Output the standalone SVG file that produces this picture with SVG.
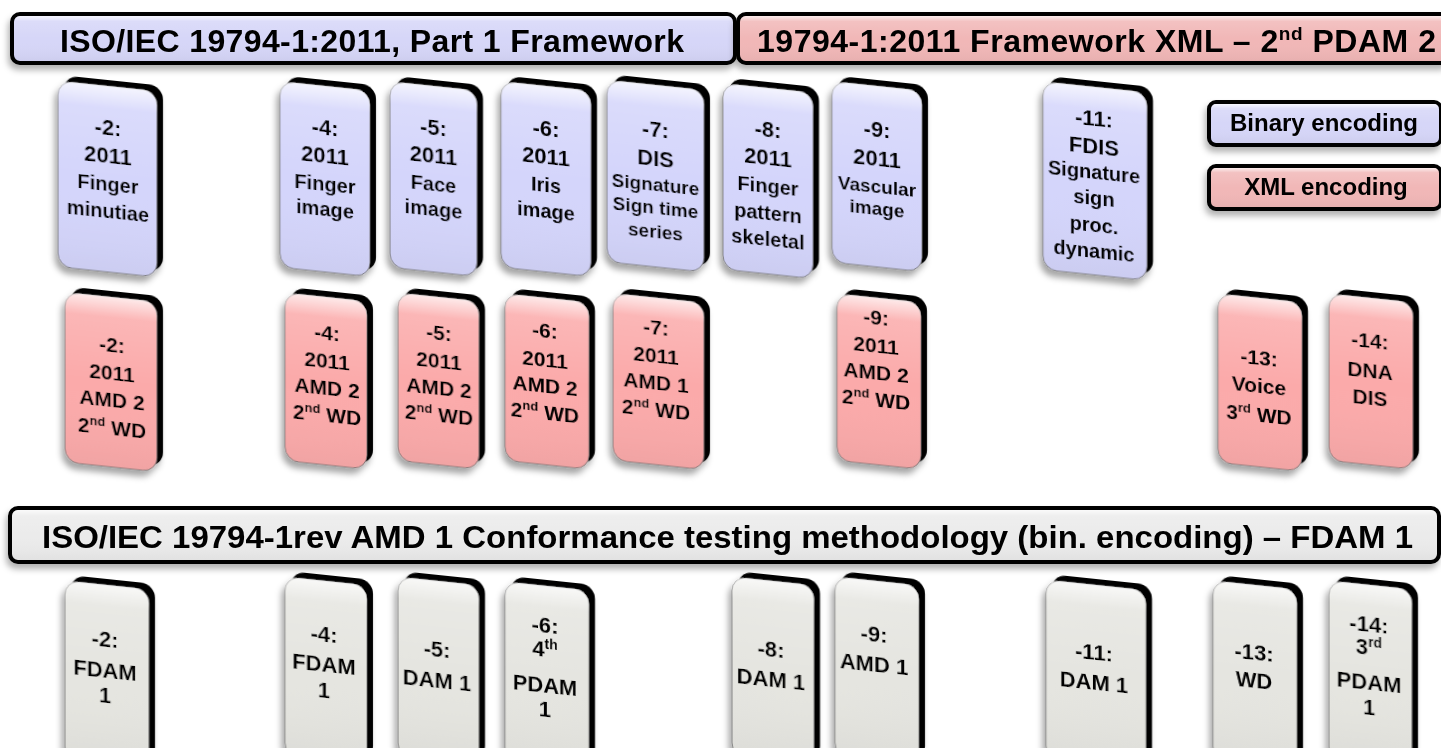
<svg xmlns="http://www.w3.org/2000/svg" width="1441" height="748" viewBox="0 0 1441 748">
<style>
.t{font-family:"Liberation Sans",Arial,Helvetica,sans-serif;font-weight:bold;text-anchor:middle;fill:#000}
.ht{font-family:"Liberation Sans",Arial,Helvetica,sans-serif;font-weight:bold;fill:#000}
.plate{fill:#000}
.face{stroke:#6e6e6e;stroke-width:0.8}
.blue{fill:#d4d5fb}
.pink{fill:#fbaaaa}
.gray{fill:#e5e5e0}
.bblue{fill:#d6d6f8}
.bpink{fill:#f1b7b7}
.bgray{fill:#ebebeb}
.gloss{fill:url(#gl);stroke:none}
.ban{stroke:#000;stroke-width:4}
.s22{font-size:22px}
.s20{font-size:20px}
.s19{font-size:19px}
.s21{font-size:21px}
</style>
<defs>
<linearGradient id="gl" x1="0" y1="0" x2="0" y2="1">
<stop offset="0" stop-color="#fff" stop-opacity="0.75"/>
<stop offset="0.12" stop-color="#fff" stop-opacity="0.15"/>
<stop offset="0.5" stop-color="#fff" stop-opacity="0"/>
<stop offset="1" stop-color="#000" stop-opacity="0.04"/>
</linearGradient>
<filter id="sh" x="-20%" y="-10%" width="140%" height="125%">
<feDropShadow dx="-3" dy="6" stdDeviation="3" flood-color="#000" flood-opacity="0.35"/>
</filter>
<filter id="bsh" x="-5%" y="-20%" width="110%" height="160%">
<feDropShadow dx="-2" dy="5" stdDeviation="3" flood-color="#000" flood-opacity="0.3"/>
</filter>
</defs>

<!-- Banners -->
<g id="banner1" filter="url(#bsh)">
<rect class="ban bblue" x="12" y="14" width="723" height="49" rx="8"/>
<rect class="gloss" x="14" y="16" width="719" height="45" rx="6"/>
<text class="ht" x="60" y="52" font-size="32" textLength="624" lengthAdjust="spacing">ISO/IEC 19794-1:2011, Part 1 Framework</text>
</g>
<g id="banner2" filter="url(#bsh)">
<rect class="ban bpink" x="738" y="14" width="712" height="49" rx="8"/>
<rect class="gloss" x="740" y="16" width="708" height="45" rx="6"/>
<text class="ht" x="757" y="52" font-size="32" textLength="679" lengthAdjust="spacing">19794-1:2011 Framework XML – 2<tspan font-size="19" dy="-12">nd</tspan><tspan dy="12"> PDAM 2</tspan></text>
</g>
<g id="banner3" filter="url(#bsh)">
<rect class="ban bgray" x="10" y="508" width="1429" height="54" rx="8"/>
<rect class="gloss" x="12" y="510" width="1425" height="50" rx="6"/>
<text class="ht" x="42" y="548" font-size="31" textLength="1371" lengthAdjust="spacingAndGlyphs">ISO/IEC 19794-1rev AMD 1 Conformance testing methodology (bin. encoding) – FDAM 1</text>
</g>

<!-- Legend -->
<g id="legend-binary" filter="url(#bsh)">
<rect class="ban bblue" x="1209" y="102" width="232" height="43" rx="7"/>
<rect class="gloss" x="1211" y="104" width="228" height="39" rx="5"/>
<text class="t" x="1324" y="131" font-size="24">Binary encoding</text>
</g>
<g id="legend-xml" filter="url(#bsh)">
<rect class="ban bpink" x="1209" y="166" width="232" height="43" rx="7"/>
<rect class="gloss" x="1211" y="168" width="228" height="39" rx="5"/>
<text class="t" x="1326" y="195" font-size="24">XML encoding</text>
</g>

<!-- Blue cards (binary encoding) -->
<g id="b2" filter="url(#sh)" transform="translate(107.5,179) skewY(6) translate(-107.5,-179)">
<rect class="plate" x="64" y="80" width="99" height="186" rx="14"/>
<rect class="face blue" x="58" y="86" width="99" height="186" rx="14"/>
<rect class="gloss" x="58" y="86" width="99" height="186" rx="14"/>
<text class="t s22" x="108" y="135">-2:</text>
<text class="t s22" x="108" y="163">2011</text>
<text class="t s20" x="108" y="191">Finger</text>
<text class="t s20" x="108" y="218">minutiae</text>
</g>
<g id="b4" filter="url(#sh)" transform="translate(325,179) skewY(6) translate(-325,-179)">
<rect class="plate" x="286" y="80" width="90" height="186" rx="14"/>
<rect class="face blue" x="280" y="86" width="90" height="186" rx="14"/>
<rect class="gloss" x="280" y="86" width="90" height="186" rx="14"/>
<text class="t s22" x="325" y="135">-4:</text>
<text class="t s22" x="325" y="163">2011</text>
<text class="t s20" x="325" y="191">Finger</text>
<text class="t s20" x="325" y="216">image</text>
</g>
<g id="b5" filter="url(#sh)" transform="translate(433.5,179) skewY(6) translate(-433.5,-179)">
<rect class="plate" x="396" y="80" width="87" height="186" rx="14"/>
<rect class="face blue" x="390" y="86" width="87" height="186" rx="14"/>
<rect class="gloss" x="390" y="86" width="87" height="186" rx="14"/>
<text class="t s22" x="433.5" y="135">-5:</text>
<text class="t s22" x="433.5" y="163">2011</text>
<text class="t s20" x="433.5" y="191">Face</text>
<text class="t s20" x="433.5" y="216">image</text>
</g>
<g id="b6" filter="url(#sh)" transform="translate(546,179) skewY(6) translate(-546,-179)">
<rect class="plate" x="507" y="80" width="90" height="186" rx="14"/>
<rect class="face blue" x="501" y="86" width="90" height="186" rx="14"/>
<rect class="gloss" x="501" y="86" width="90" height="186" rx="14"/>
<text class="t s22" x="546" y="136">-6:</text>
<text class="t s22" x="546" y="164">2011</text>
<text class="t s20" x="546" y="192">Iris</text>
<text class="t s20" x="546" y="218">image</text>
</g>
<g id="b7" filter="url(#sh)" transform="translate(655.5,176) skewY(6) translate(-655.5,-176)">
<rect class="plate" x="613" y="79" width="97" height="182" rx="14"/>
<rect class="face blue" x="607" y="85" width="97" height="182" rx="14"/>
<rect class="gloss" x="607" y="85" width="97" height="182" rx="14"/>
<text class="t s22" x="655.5" y="137">-7:</text>
<text class="t s22" x="655.5" y="166">DIS</text>
<text class="t s19" x="655.5" y="191">Signature</text>
<text class="t s19" x="655.5" y="214">Sign time</text>
<text class="t s19" x="655.5" y="238">series</text>
</g>
<g id="b8" filter="url(#sh)" transform="translate(768,181) skewY(6) translate(-768,-181)">
<rect class="plate" x="729" y="82" width="90" height="186" rx="14"/>
<rect class="face blue" x="723" y="88" width="90" height="186" rx="14"/>
<rect class="gloss" x="723" y="88" width="90" height="186" rx="14"/>
<text class="t s22" x="768" y="137">-8:</text>
<text class="t s22" x="768" y="165">2011</text>
<text class="t s20" x="768" y="193">Finger</text>
<text class="t s20" x="768" y="220">pattern</text>
<text class="t s20" x="768" y="246">skeletal</text>
</g>
<g id="b9" filter="url(#sh)" transform="translate(877,176.5) skewY(6) translate(-877,-176.5)">
<rect class="plate" x="838" y="80" width="90" height="181" rx="14"/>
<rect class="face blue" x="832" y="86" width="90" height="181" rx="14"/>
<rect class="gloss" x="832" y="86" width="90" height="181" rx="14"/>
<text class="t s22" x="877" y="137">-9:</text>
<text class="t s22" x="877" y="166">2011</text>
<text class="t s19" x="877" y="193">Vascular</text>
<text class="t s19" x="877" y="215">image</text>
</g>
<g id="b11" filter="url(#sh)" transform="translate(1095,181) skewY(6) translate(-1095,-181)">
<rect class="plate" x="1049" y="81" width="104" height="188" rx="14"/>
<rect class="face blue" x="1043" y="87" width="104" height="188" rx="14"/>
<rect class="gloss" x="1043" y="87" width="104" height="188" rx="14"/>
<text class="t s22" x="1094" y="126">-11:</text>
<text class="t s22" x="1094" y="154">FDIS</text>
<text class="t s20" x="1094" y="179">Signature</text>
<text class="t s20" x="1094" y="205">sign</text>
<text class="t s20" x="1094" y="232">proc.</text>
<text class="t s20" x="1094" y="258">dynamic</text>
</g>

<!-- Pink cards (XML encoding) -->
<g id="x2" filter="url(#sh)" transform="translate(111,382) skewY(6) translate(-111,-382)">
<rect class="plate" x="71" y="291" width="92" height="170" rx="14"/>
<rect class="face pink" x="65" y="297" width="92" height="170" rx="14"/>
<rect class="gloss" x="65" y="297" width="92" height="170" rx="14"/>
<text class="t s21" x="112" y="352">-2:</text>
<text class="t s21" x="112" y="380">2011</text>
<text class="t s21" x="112" y="407">AMD 2</text>
<text class="t s21" x="112" y="435">2<tspan font-size="13" dy="-8">nd</tspan><tspan dy="8"> WD</tspan></text>
</g>
<g id="x4" filter="url(#sh)" transform="translate(326,381) skewY(6) translate(-326,-381)">
<rect class="plate" x="291" y="291" width="82" height="168" rx="14"/>
<rect class="face pink" x="285" y="297" width="82" height="168" rx="14"/>
<rect class="gloss" x="285" y="297" width="82" height="168" rx="14"/>
<text class="t s21" x="327" y="340">-4:</text>
<text class="t s21" x="327" y="368">2011</text>
<text class="t s21" x="327" y="395">AMD 2</text>
<text class="t s21" x="327" y="422">2<tspan font-size="13" dy="-8">nd</tspan><tspan dy="8"> WD</tspan></text>
</g>
<g id="x5" filter="url(#sh)" transform="translate(438.5,381) skewY(6) translate(-438.5,-381)">
<rect class="plate" x="404" y="291" width="81" height="168" rx="14"/>
<rect class="face pink" x="398" y="297" width="81" height="168" rx="14"/>
<rect class="gloss" x="398" y="297" width="81" height="168" rx="14"/>
<text class="t s21" x="439" y="340">-5:</text>
<text class="t s21" x="439" y="368">2011</text>
<text class="t s21" x="439" y="395">AMD 2</text>
<text class="t s21" x="439" y="422">2<tspan font-size="13" dy="-8">nd</tspan><tspan dy="8"> WD</tspan></text>
</g>
<g id="x6" filter="url(#sh)" transform="translate(547,381.5) skewY(6) translate(-547,-381.5)">
<rect class="plate" x="511" y="292" width="84" height="167" rx="14"/>
<rect class="face pink" x="505" y="298" width="84" height="167" rx="14"/>
<rect class="gloss" x="505" y="298" width="84" height="167" rx="14"/>
<text class="t s21" x="545" y="338">-6:</text>
<text class="t s21" x="545" y="367">2011</text>
<text class="t s21" x="545" y="393">AMD 2</text>
<text class="t s21" x="545" y="420">2<tspan font-size="13" dy="-8">nd</tspan><tspan dy="8"> WD</tspan></text>
</g>
<g id="x7" filter="url(#sh)" transform="translate(658.5,381.5) skewY(6) translate(-658.5,-381.5)">
<rect class="plate" x="619" y="292" width="91" height="167" rx="14"/>
<rect class="face pink" x="613" y="298" width="91" height="167" rx="14"/>
<rect class="gloss" x="613" y="298" width="91" height="167" rx="14"/>
<text class="t s21" x="656" y="335">-7:</text>
<text class="t s21" x="656" y="363">2011</text>
<text class="t s21" x="656" y="390">AMD 1</text>
<text class="t s21" x="656" y="417">2<tspan font-size="13" dy="-8">nd</tspan><tspan dy="8"> WD</tspan></text>
</g>
<g id="x9" filter="url(#sh)" transform="translate(879,381.5) skewY(6) translate(-879,-381.5)">
<rect class="plate" x="843" y="292" width="84" height="167" rx="14"/>
<rect class="face pink" x="837" y="298" width="84" height="167" rx="14"/>
<rect class="gloss" x="837" y="298" width="84" height="167" rx="14"/>
<text class="t s21" x="876" y="325">-9:</text>
<text class="t s21" x="876" y="353">2011</text>
<text class="t s21" x="876" y="380">AMD 2</text>
<text class="t s21" x="876" y="407">2<tspan font-size="13" dy="-8">nd</tspan><tspan dy="8"> WD</tspan></text>
</g>
<g id="x13" filter="url(#sh)" transform="translate(1260,382.5) skewY(6) translate(-1260,-382.5)">
<rect class="plate" x="1224" y="292" width="84" height="169" rx="14"/>
<rect class="face pink" x="1218" y="298" width="84" height="169" rx="14"/>
<rect class="gloss" x="1218" y="298" width="84" height="169" rx="14"/>
<text class="t s21" x="1259" y="365">-13:</text>
<text class="t s21" x="1259" y="393">Voice</text>
<text class="t s21" x="1259" y="422">3<tspan font-size="13" dy="-8">rd</tspan><tspan dy="8"> WD</tspan></text>
</g>
<g id="x14" filter="url(#sh)" transform="translate(1371,381.5) skewY(6) translate(-1371,-381.5)">
<rect class="plate" x="1335" y="292" width="84" height="167" rx="14"/>
<rect class="face pink" x="1329" y="298" width="84" height="167" rx="14"/>
<rect class="gloss" x="1329" y="298" width="84" height="167" rx="14"/>
<text class="t s21" x="1370" y="348">-14:</text>
<text class="t s21" x="1370" y="378">DNA</text>
<text class="t s21" x="1370" y="405">DIS</text>
</g>

<!-- Gray cards (conformance testing) -->
<g id="c2" filter="url(#sh)" transform="translate(107,672) skewY(6) translate(-107,-672)">
<rect class="plate" x="71" y="579" width="84" height="180" rx="14"/>
<rect class="face gray" x="65" y="585" width="84" height="180" rx="14"/>
<rect class="gloss" x="65" y="585" width="84" height="180" rx="14"/>
<text class="t s22" x="105" y="647">-2:</text>
<text class="t s22" x="105" y="678">FDAM</text>
<text class="t s22" x="105" y="703">1</text>
</g>
<g id="c4" filter="url(#sh)" transform="translate(326,668) skewY(6) translate(-326,-668)">
<rect class="plate" x="291" y="575" width="82" height="180" rx="14"/>
<rect class="face gray" x="285" y="581" width="82" height="180" rx="14"/>
<rect class="gloss" x="285" y="581" width="82" height="180" rx="14"/>
<text class="t s22" x="324" y="642">-4:</text>
<text class="t s22" x="324" y="672">FDAM</text>
<text class="t s22" x="324" y="698">1</text>
</g>
<g id="c5" filter="url(#sh)" transform="translate(438.5,668) skewY(6) translate(-438.5,-668)">
<rect class="plate" x="404" y="575" width="81" height="180" rx="14"/>
<rect class="face gray" x="398" y="581" width="81" height="180" rx="14"/>
<rect class="gloss" x="398" y="581" width="81" height="180" rx="14"/>
<text class="t s22" x="437" y="657">-5:</text>
<text class="t s22" x="437" y="688">DAM 1</text>
</g>
<g id="c6" filter="url(#sh)" transform="translate(547,673) skewY(6) translate(-547,-673)">
<rect class="plate" x="511" y="580" width="84" height="180" rx="14"/>
<rect class="face gray" x="505" y="586" width="84" height="180" rx="14"/>
<rect class="gloss" x="505" y="586" width="84" height="180" rx="14"/>
<text class="t s22" x="545" y="633">-6:</text>
<text class="t s22" x="545" y="657">4<tspan font-size="14" dy="-8">th</tspan></text>
<text class="t s22" x="545" y="693">PDAM</text>
<text class="t s22" x="545" y="717">1</text>
</g>
<g id="c8" filter="url(#sh)" transform="translate(773,668) skewY(6) translate(-773,-668)">
<rect class="plate" x="738" y="575" width="82" height="180" rx="14"/>
<rect class="face gray" x="732" y="581" width="82" height="180" rx="14"/>
<rect class="gloss" x="732" y="581" width="82" height="180" rx="14"/>
<text class="t s22" x="771" y="657">-8:</text>
<text class="t s22" x="771" y="687">DAM 1</text>
</g>
<g id="c9" filter="url(#sh)" transform="translate(877,668) skewY(6) translate(-877,-668)">
<rect class="plate" x="841" y="575" width="84" height="180" rx="14"/>
<rect class="face gray" x="835" y="581" width="84" height="180" rx="14"/>
<rect class="gloss" x="835" y="581" width="84" height="180" rx="14"/>
<text class="t s22" x="874" y="642">-9:</text>
<text class="t s22" x="874" y="672">AMD 1</text>
</g>
<g id="c11" filter="url(#sh)" transform="translate(1096,672) skewY(6) translate(-1096,-672)">
<rect class="plate" x="1052" y="579" width="100" height="180" rx="14"/>
<rect class="face gray" x="1046" y="585" width="100" height="180" rx="14"/>
<rect class="gloss" x="1046" y="585" width="100" height="180" rx="14"/>
<text class="t s22" x="1094" y="660">-11:</text>
<text class="t s22" x="1094" y="690">DAM 1</text>
</g>
<g id="c13" filter="url(#sh)" transform="translate(1255,672) skewY(6) translate(-1255,-672)">
<rect class="plate" x="1219" y="579" width="84" height="180" rx="14"/>
<rect class="face gray" x="1213" y="585" width="84" height="180" rx="14"/>
<rect class="gloss" x="1213" y="585" width="84" height="180" rx="14"/>
<text class="t s22" x="1254" y="660">-13:</text>
<text class="t s22" x="1254" y="688">WD</text>
</g>
<g id="c14" filter="url(#sh)" transform="translate(1370.5,672) skewY(6) translate(-1370.5,-672)">
<rect class="plate" x="1335" y="579" width="83" height="180" rx="14"/>
<rect class="face gray" x="1329" y="585" width="83" height="180" rx="14"/>
<rect class="gloss" x="1329" y="585" width="83" height="180" rx="14"/>
<text class="t s22" x="1369" y="632">-14:</text>
<text class="t s22" x="1369" y="655">3<tspan font-size="14" dy="-8">rd</tspan></text>
<text class="t s22" x="1369" y="690">PDAM</text>
<text class="t s22" x="1369" y="715">1</text>
</g>

<g id="connectors"></g>
</svg>
